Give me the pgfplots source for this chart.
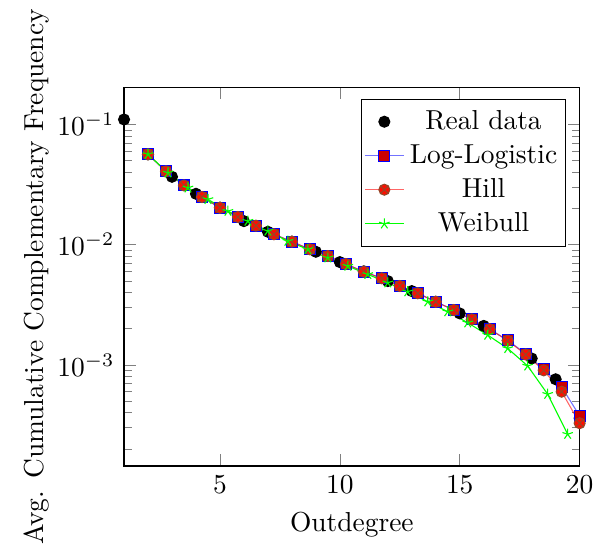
\documentclass[border=0pt]{standalone}
\usepackage{pgfplots}
\pgfplotsset{compat=1.18}
\definecolor{hillcross}{RGB}{150,70,40}

\begin{document}
\begin{tikzpicture}
\begin{axis}[
  scale only axis,
  width=166pt,
  height=138pt,
  ymode=log,
  xmin=1, xmax=20,
  ymin=1.44e-4, ymax=0.204,
  xtick={5,10,15,20},
  xlabel={Outdegree},
  ylabel={Avg. Cumulative Complementary Frequency},
  ylabel style={yshift=-4pt},
  legend pos=north east,
  legend cell align=center,
  legend style={inner xsep=1pt},
  legend image code/.code={
    \draw[mark repeat=2,mark phase=2] plot coordinates {(0cm,0cm) (0.25cm,0cm) (0.5cm,0cm)};
  },
]
% real data
\addplot[only marks, mark=*, black] coordinates {
  (1,0.110) (2,0.0564) (3,0.0367) (4,0.0265) (5,0.0203) (6,0.0157)
  (7,0.0128) (8,0.0106) (9,0.00873) (10,0.00716) (11,0.0060) (12,0.00498)
  (13,0.00411) (14,0.00335) (15,0.00268) (16,0.00211) (17,0.00160)
  (18,0.00113) (19,0.000759) (20,0.00036)
};
\addlegendentry{Real data}
% log-logistic fit
\addplot[blue, draw opacity=0.55, mark=square*, mark options={draw=blue, fill=red!80!black, opacity=1}] coordinates {
  (2,0.0564) (2.75,0.0407) (3.5,0.0311) (4.25,0.0249) (5,0.0203)
  (5.75,0.0170) (6.5,0.0144) (7.25,0.0122) (8,0.0106) (8.75,0.00914)
  (9.5,0.00804) (10.25,0.00690) (11,0.00596) (11.75,0.00525) (12.5,0.00453)
  (13.25,0.00394) (14,0.00335) (14.75,0.00286) (15.5,0.00239) (16.25,0.00198)
  (17,0.00160) (17.75,0.00124) (18.5,0.000919) (19.25,0.000655) (20,0.000376)
};
\addlegendentry{Log-Logistic}
% hill fit
\addplot[red, draw opacity=0.6, mark=otimes*, mark options={draw=hillcross, fill=red!90!orange, opacity=1}] coordinates {
  (2,0.0564) (2.75,0.0407) (3.5,0.0311) (4.25,0.0249) (5,0.0203)
  (5.75,0.0170) (6.5,0.0144) (7.25,0.0122) (8,0.0106) (8.75,0.00914)
  (9.5,0.00804) (10.25,0.00690) (11,0.00596) (11.75,0.00525) (12.5,0.00453)
  (13.25,0.00394) (14,0.00335) (14.75,0.00286) (15.5,0.00239) (16.25,0.00198)
  (17,0.00159) (17.75,0.00122) (18.5,0.000900) (19.25,0.000598) (20,0.000327)
};
\addlegendentry{Hill}
% weibull fit
\addplot[green, mark=star] coordinates {
  (2,0.0564) (2.833,0.0396) (3.667,0.0297) (4.5,0.0238) (5.333,0.0190)
  (6.167,0.0157) (7,0.0130) (7.833,0.0107) (8.667,0.00914) (9.5,0.00778)
  (10.333,0.00664) (11.167,0.00566) (12,0.00482) (12.833,0.00406)
  (13.667,0.00335) (14.5,0.00277) (15.333,0.00224) (16.167,0.00177)
  (17,0.00137) (17.833,0.000980) (18.667,0.000570) (19.5,0.000265)
};
\addlegendentry{Weibull}
\end{axis}
\path ([xshift=-5.5pt]current bounding box.south west) rectangle ([xshift=2pt]current bounding box.north east);
\end{tikzpicture}
\end{document}
